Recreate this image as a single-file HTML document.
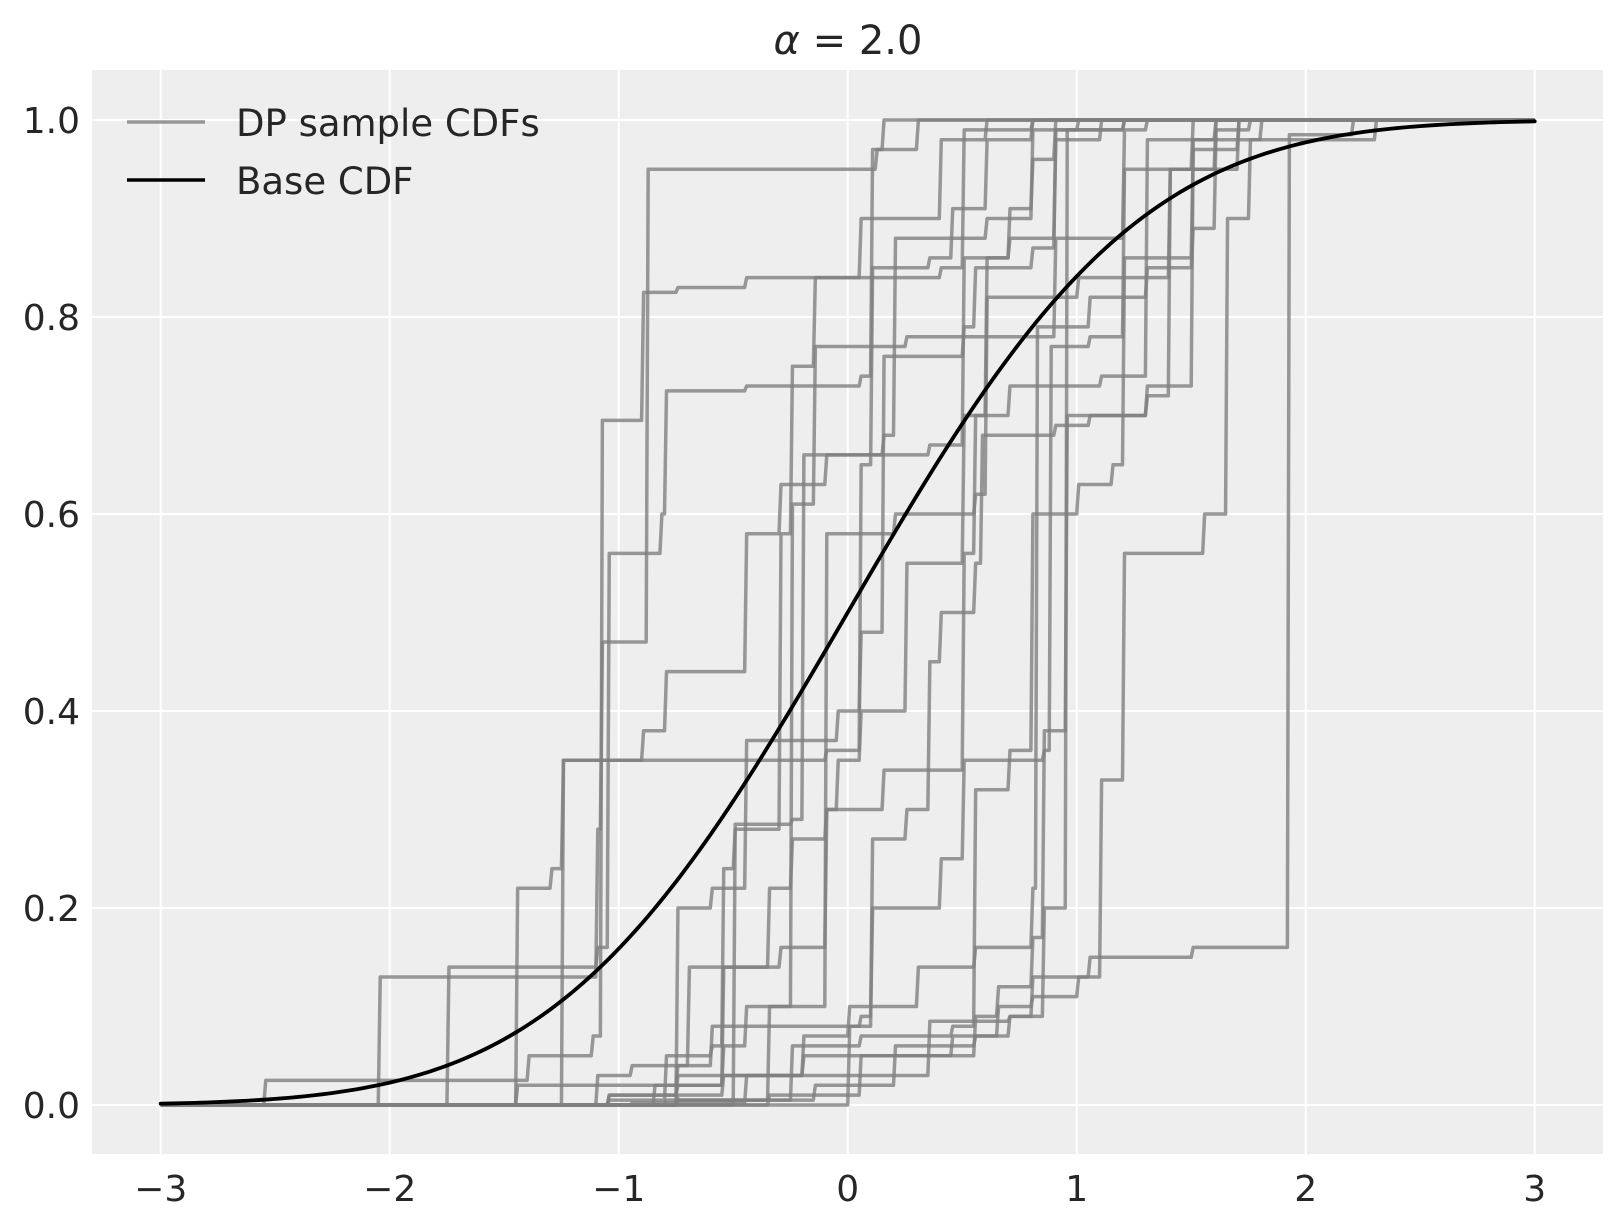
<!DOCTYPE html>
<html><head><meta charset="utf-8"><style>
body{margin:0;background:#fff}
text{font-family:"DejaVu Sans","Liberation Sans",sans-serif;fill:#262626}
</style></head><body>
<svg id="chart" width="1623" height="1223" viewBox="0 0 1623 1223">
<rect x="92" y="70" width="1511" height="1084" fill="#eeeeee"/>
<g id="grid"></g><g id="series"></g><g id="base"></g><g id="ticks"></g>
<text x="848" y="54" text-anchor="middle" font-size="40"><tspan font-style="italic">α</tspan> = 2.0</text>
<g>
<line x1="127" y1="122" x2="205" y2="122" stroke="#808080" stroke-opacity="0.8" stroke-width="3.5"/>
<text x="236" y="136" font-size="37">DP sample CDFs</text>
<line x1="127" y1="180" x2="205" y2="180" stroke="#000" stroke-width="3.5"/>
<text x="236" y="194" font-size="37">Base CDF</text>
</g>
</svg>
<script>
const xTicks=[-3,-2,-1,0,1,2,3];
const xTickLabels=["−3","−2","−1","0","1","2","3"];
const yTicks=[0,0.2,0.4,0.6,0.8,1.0];
const yTickLabels=["0.0","0.2","0.4","0.6","0.8","1.0"];
const s1=[[-2.05,0.13],[-1.1,0.28],[-1.08,0.47],[-0.88,0.95],[0.12,0.97],[0.15,1.0]];
const s2=[[-2.55,0.025],[-1.4,0.05],[-1.12,0.07],[-1.08,0.695],[-0.9,0.825],[-0.75,0.83],[-0.45,0.84],[0.4,0.85],[0.5,0.99],[0.8,1.0]];
const s3=[[-1.75,0.14],[-1.1,0.16],[-1.05,0.56],[-0.82,0.6],[-0.8,0.725],[-0.45,0.73],[0.05,0.74],[0.1,0.97],[0.3,1.0]];
const s4=[[-1.25,0.35],[-0.1,0.36],[0.05,0.65],[0.1,0.85],[0.35,0.86],[0.45,0.91],[0.6,0.98],[0.8,1.0]];
const s5=[[-0.5,0.285],[-0.25,0.29],[-0.2,0.66],[0.15,0.68],[0.2,0.88],[0.6,0.9],[0.8,0.99],[1.0,1.0]];
const s6=[[-1.05,0.005],[-0.8,0.05],[-0.6,0.06],[-0.55,0.24],[-0.5,0.28],[-0.3,0.58],[-0.25,0.75],[-0.15,0.84],[0.05,0.9],[0.4,0.98],[0.6,1.0]];
const s7=[[-0.75,0.005],[-0.35,0.1],[-0.25,0.61],[-0.15,0.77],[0.25,0.78],[0.9,0.88],[1.2,0.99],[1.3,1.0]];
const s8=[[-0.85,0.02],[-0.55,0.06],[-0.45,0.1],[-0.1,0.58],[0.2,0.6],[0.55,0.62],[0.6,0.82],[1.0,0.84],[1.4,0.95],[1.5,1.0]];
const s9=[[0.0,0.08],[0.1,0.27],[0.25,0.3],[0.35,0.45],[0.4,0.5],[0.55,0.55],[0.58,0.68],[0.9,0.69],[1.05,0.7],[1.3,0.72],[1.4,0.95],[1.6,1.0]];
const s10=[[-1.1,0.03],[-0.95,0.04],[-0.6,0.08],[0.05,0.09],[0.1,0.2],[0.4,0.25],[0.5,0.35],[0.85,0.36],[0.88,0.77],[1.05,0.78],[1.2,0.95],[1.7,1.0]];
const s11=[[-1.05,0.01],[-0.75,0.02],[-0.55,0.14],[-0.35,0.22],[-0.25,0.27],[-0.1,0.3],[0.15,0.34],[0.5,0.56],[0.55,0.7],[0.7,0.73],[1.1,0.74],[1.3,0.98],[1.8,1.0]];
const s12=[[-0.75,0.005],[-0.25,0.06],[0.05,0.07],[0.45,0.08],[0.55,0.32],[0.7,0.36],[0.8,0.6],[1.0,0.63],[1.15,0.65],[1.2,0.86],[1.5,0.97],[1.7,1.0]];
const s13=[[-0.75,0.01],[-0.55,0.03],[0.35,0.085],[0.7,0.09],[0.8,0.13],[1.05,0.15],[1.5,0.16],[1.92,0.985],[2.2,1.0]];
const s14=[[-0.8,0.005],[-0.15,0.02],[0.2,0.06],[0.55,0.07],[0.65,0.1],[0.8,0.11],[1.0,0.13],[1.1,0.33],[1.2,0.56],[1.55,0.6],[1.65,0.9],[1.75,0.98],[2.3,1.0]];
const s15=[[-0.35,0.01],[0.05,0.05],[0.45,0.07],[0.7,0.09],[0.85,0.2],[0.95,0.99],[1.2,1.0]];
const s16=[[-0.95,0.002],[-0.45,0.03],[-0.2,0.07],[0.0,0.1],[0.3,0.14],[0.55,0.16],[0.8,0.22],[0.82,0.79],[1.05,0.82],[1.3,0.85],[1.5,0.89],[1.6,0.99],[1.75,1.0]];
const s17=[[-0.75,0.2],[-0.6,0.22],[-0.45,0.37],[-0.05,0.4],[0.05,0.48],[0.15,0.76],[0.5,0.79],[0.55,0.85],[0.8,0.87],[0.9,0.99],[1.2,1.0]];
const s18=[[-1.45,0.02],[-0.75,0.04],[-0.7,0.14],[-0.3,0.16],[-0.1,0.3],[-0.05,0.35],[0.05,0.4],[0.25,0.55],[0.5,0.7],[0.6,0.86],[0.7,0.91],[0.8,0.96],[0.9,1.0]];
const s19=[[-1.45,0.22],[-1.3,0.24],[-1.25,0.35],[-0.9,0.38],[-0.8,0.44],[-0.45,0.58],[-0.3,0.63],[-0.1,0.66],[0.35,0.67],[0.5,0.86],[0.7,0.88],[0.9,0.98],[1.1,1.0]];
const s20=[[-1.05,0.01],[-0.75,0.03],[-0.2,0.05],[0.55,0.09],[0.65,0.12],[0.8,0.17],[0.85,0.38],[0.95,0.7],[1.3,0.73],[1.5,0.98],[1.6,1.0]];
const allSeries=[s1,s2,s3,s4,s5,s6,s7,s8,s9,s10,s11,s12,s13,s14,s15,s16,s17,s18,s19,s20];
const baseGridX=[];for(let i=0;i<=240;i++)baseGridX.push(-3+i*0.025);

const NS="http://www.w3.org/2000/svg";
const X=v=>160.7+(v+3)*229;
const Y=v=>1105-v*985;
function mk(tag,attrs,parent){const e=document.createElementNS(NS,tag);for(const k in attrs)e.setAttribute(k,attrs[k]);parent.appendChild(e);return e;}
const grid=document.getElementById('grid'),ticks=document.getElementById('ticks');
xTicks.forEach((t,i)=>{
  const l=mk('line',{x1:X(t),x2:X(t),y1:70,y2:1154,stroke:'#fff','stroke-width':2},grid);
  
  
  const tx=mk('text',{x:X(t),y:1201,'text-anchor':'middle','font-size':36},ticks);
  tx.textContent=xTickLabels[i];
  
  
});
yTicks.forEach((t,i)=>{
  const l=mk('line',{x1:92,x2:1603,y1:Y(t),y2:Y(t),stroke:'#fff','stroke-width':2},grid);
  
  
  const tx=mk('text',{x:80,y:Y(t)+13,'text-anchor':'end','font-size':36},ticks);
  tx.textContent=yTickLabels[i];
  
  
});
const sg=document.getElementById('series');
allSeries.forEach((s,i)=>{
  let d='M'+X(-3)+','+Y(0);let prev=0;
  s.forEach(p=>{d+=' L'+X(p[0])+','+Y(prev)+' L'+(X(p[0])+2)+','+Y(p[1]);prev=p[1];});
  d+=' L'+X(3)+','+Y(prev);
  const p=mk('path',{d:d,fill:'none',stroke:'#808080','stroke-opacity':0.8,'stroke-width':3.5,'stroke-linejoin':'round'},sg);
  
  
});
function erf(x){const s=Math.sign(x);x=Math.abs(x);const t=1/(1+0.3275911*x);const y=1-(((((1.061405429*t-1.453152027)*t)+1.421413741)*t-0.284496736)*t+0.254829592)*t*Math.exp(-x*x);return s*y;}
const baseVals=baseGridX.map(x=>0.5*(1+erf(x/Math.SQRT2)));
const bd=baseGridX.map((x,i)=>(i?'L':'M')+X(x)+','+Y(baseVals[i])).join(' ');
const bp=mk('path',{d:bd,fill:'none',stroke:'#000','stroke-width':3.8,'stroke-linecap':'round'},document.getElementById('base'));


</script>
</body></html>
